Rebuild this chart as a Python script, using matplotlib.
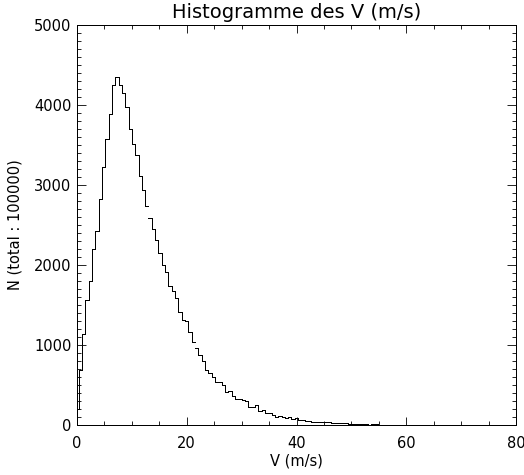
import numpy as np
import matplotlib
matplotlib.use("Agg")
import matplotlib.pyplot as plt
from matplotlib.ticker import MultipleLocator

# histogramme des vitesses (largeur de classe ~0.606 m/s)
bin_width = 0.606
counts = [
    200, 687, 1133, 1562, 1796, 2196, 2421, 2821, 3221, 3571,
    3892, 4250, 4354, 4250, 4146, 3979, 3696, 3510, 3375, 3112,
    2933, 2733, 2583, 2446, 2312, 2146, 1996, 1908, 1737, 1671,
    1583, 1408, 1308, 1300, 1158, 1042, 958, 875, 800, 683,
    650, 600, 537, 537, 496, 412, 425, 358, 321, 329,
    312, 304, 221, 221, 250, 175, 187, 146, 146, 121,
    104, 117, 104, 92, 96, 75, 83, 67, 58, 50,
    50, 42, 42, 42, 33, 33, 33, 21, 21, 21,
    29, 29, 12, 12, 12, 12, 12, 12, 4, 12,
    12, 4, 0,
]
# segments verticaux absents dans le trace d'origine (apres ces classes)
gaps_after = [21, 35]

title = "Histogramme des V (m/s)"
xlabel = "V (m/s)"
ylabel = "N (total : 100000)"

counts = np.array(counts, dtype=float)
centers = np.arange(len(counts)) * bin_width
edges = (centers[:-1] + centers[1:]) / 2

# trace en escalier (comme psym=10)
px = np.concatenate([[centers[0]], np.repeat(edges, 2), [centers[-1]]])
py = np.repeat(counts, 2)
for g in sorted(gaps_after, reverse=True):
    px = np.insert(px, 2 * g + 2, np.nan)
    py = np.insert(py, 2 * g + 2, np.nan)

plt.rcParams['font.family'] = ['DejaVu Sans']

fig = plt.figure(figsize=(5.24, 4.75), dpi=100)
ax = fig.add_axes([77 / 524, 1 - 425 / 475, 439 / 524, 400 / 475])

ax.plot(px, py, color='black', lw=0.6, antialiased=False)

ax.set_xlim(0, 80)
ax.set_ylim(0, 5000)
ax.xaxis.set_major_locator(MultipleLocator(20))
ax.xaxis.set_minor_locator(MultipleLocator(5))
ax.yaxis.set_major_locator(MultipleLocator(1000))
ax.yaxis.set_minor_locator(MultipleLocator(100))

ax.tick_params(axis='both', which='both', direction='in',
               top=True, right=True, width=0.6, color='black')
ax.tick_params(axis='x', which='major', length=5.8, pad=8, labelsize=10.5)
ax.tick_params(axis='x', which='minor', length=3)
ax.tick_params(axis='y', which='major', length=6.8, pad=4, labelsize=10.5)
ax.tick_params(axis='y', which='minor', length=3.2)

for sp in ax.spines.values():
    sp.set_linewidth(0.6)
    sp.set_antialiased(False)

ax.set_title(title, fontsize=14, pad=5)
ax.set_xlabel(xlabel, fontsize=10.5, labelpad=2)
ax.set_ylabel(ylabel, fontsize=10.5, labelpad=8)

fig.savefig("out.png", dpi=100)
